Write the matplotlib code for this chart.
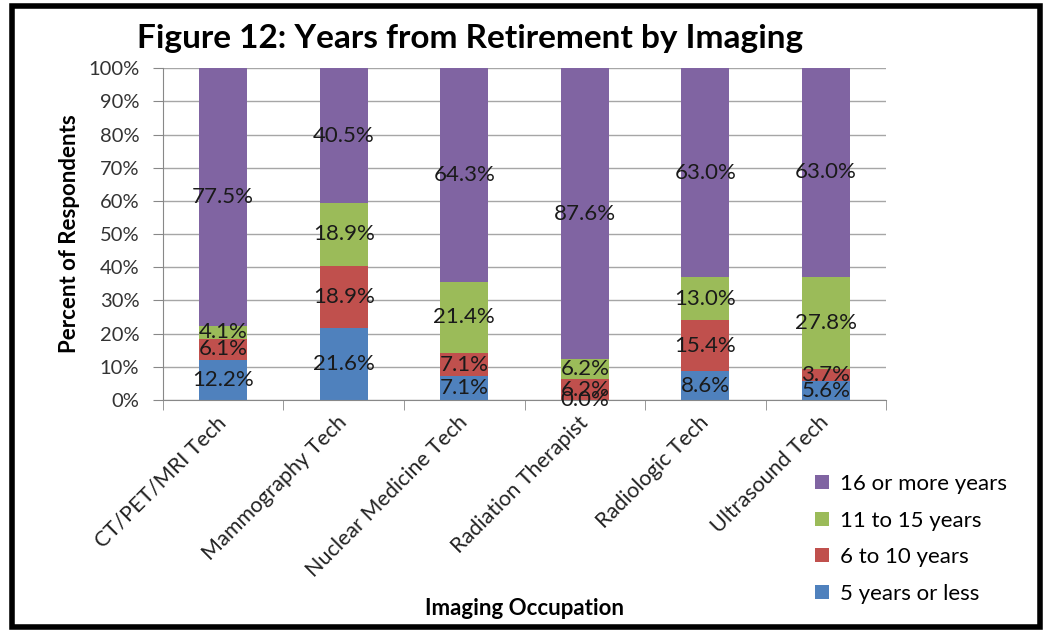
import numpy as np
import matplotlib.pyplot as plt
from matplotlib.patches import Rectangle

plt.rcParams['font.family'] = ['Lato', 'DejaVu Sans']

categories = ['CT/PET/MRI Tech', 'Mammography Tech', 'Nuclear Medicine Tech',
              'Radiation Therapist', 'Radiologic Tech', 'Ultrasound Tech']
series_names = ['5 years or less', '6 to 10 years', '11 to 15 years', '16 or more years']
five_or_less = [12.2, 21.6, 7.1, 0.0, 8.6, 5.6]
six_to_ten = [6.1, 18.9, 7.1, 6.2, 15.4, 3.7]
eleven_to_fifteen = [4.1, 18.9, 21.4, 6.2, 13.0, 27.8]
sixteen_plus = [77.5, 40.5, 64.3, 87.6, 63.0, 63.0]
colors = ['#4F81BD', '#C0504D', '#9BBB59', '#8064A2']

fig = plt.figure(figsize=(10.48, 6.37), dpi=100)
ax = fig.add_axes([0.1555, 0.372, 0.690, 0.521])

x = np.arange(len(categories))
bottom = np.zeros(len(categories))
handles = []
for name, vals, col in zip(series_names,
                           [five_or_less, six_to_ten, eleven_to_fifteen, sixteen_plus],
                           colors):
    vals = np.array(vals)
    bars = ax.bar(x, vals, 0.4, bottom=bottom, color=col, label=name, zorder=2)
    handles.append(bars)
    for xi, b, v in zip(x, bottom, vals):
        ax.text(xi, b + v / 2, f'{v:.1f}%', ha='center', va='center',
                fontsize=16, color='#1a1a1a', zorder=3)
    bottom += vals

ax.set_xlim(-0.5, len(categories) - 0.5)
ax.set_ylim(0, 100)
ax.set_yticks(np.arange(0, 101, 10))
ax.set_yticklabels([f'{v}%' for v in range(0, 101, 10)], fontsize=14.5, color='#333333')
ax.yaxis.grid(True, color='#A6A6A6', linewidth=1, zorder=0)
ax.set_axisbelow(True)

# category labels between tick marks
ax.set_xticks(x)
ax.set_xticklabels(categories, rotation=45, ha='right', va='center',
                   rotation_mode='anchor', fontsize=15.5, color='#222222')
ax.tick_params(axis='x', length=0, pad=14)
ax.set_xticks(np.arange(-0.5, len(categories)), minor=True)
ax.tick_params(axis='x', which='minor', length=7, color='#888888')
ax.tick_params(axis='y', length=7, color='#888888', pad=10)

for s in ['top', 'right']:
    ax.spines[s].set_visible(False)
for s in ['left', 'bottom']:
    ax.spines[s].set_color('#888888')

ax.set_ylabel('Percent of Respondents', fontsize=16, fontweight='bold', labelpad=6)
ax.set_xlabel('Imaging Occupation', fontsize=16, fontweight='bold', labelpad=12)

fig.text(0.449, 0.94, 'Figure 12: Years from Retirement by Imaging',
         ha='center', va='center', fontsize=24, fontweight='bold')

leg = fig.legend(handles[::-1], series_names[::-1], loc='upper left',
                 bbox_to_anchor=(0.778, 0.256), frameon=False, fontsize=16,
                 handlelength=0.6, handleheight=0.6, labelspacing=0.75,
                 handletextpad=0.5, borderaxespad=0, borderpad=0)

fig.patches.append(Rectangle((0.011, 0.015), 0.981, 0.975, transform=fig.transFigure,
                             fill=False, edgecolor='black', linewidth=4))

fig.savefig('out.png', dpi=100)
